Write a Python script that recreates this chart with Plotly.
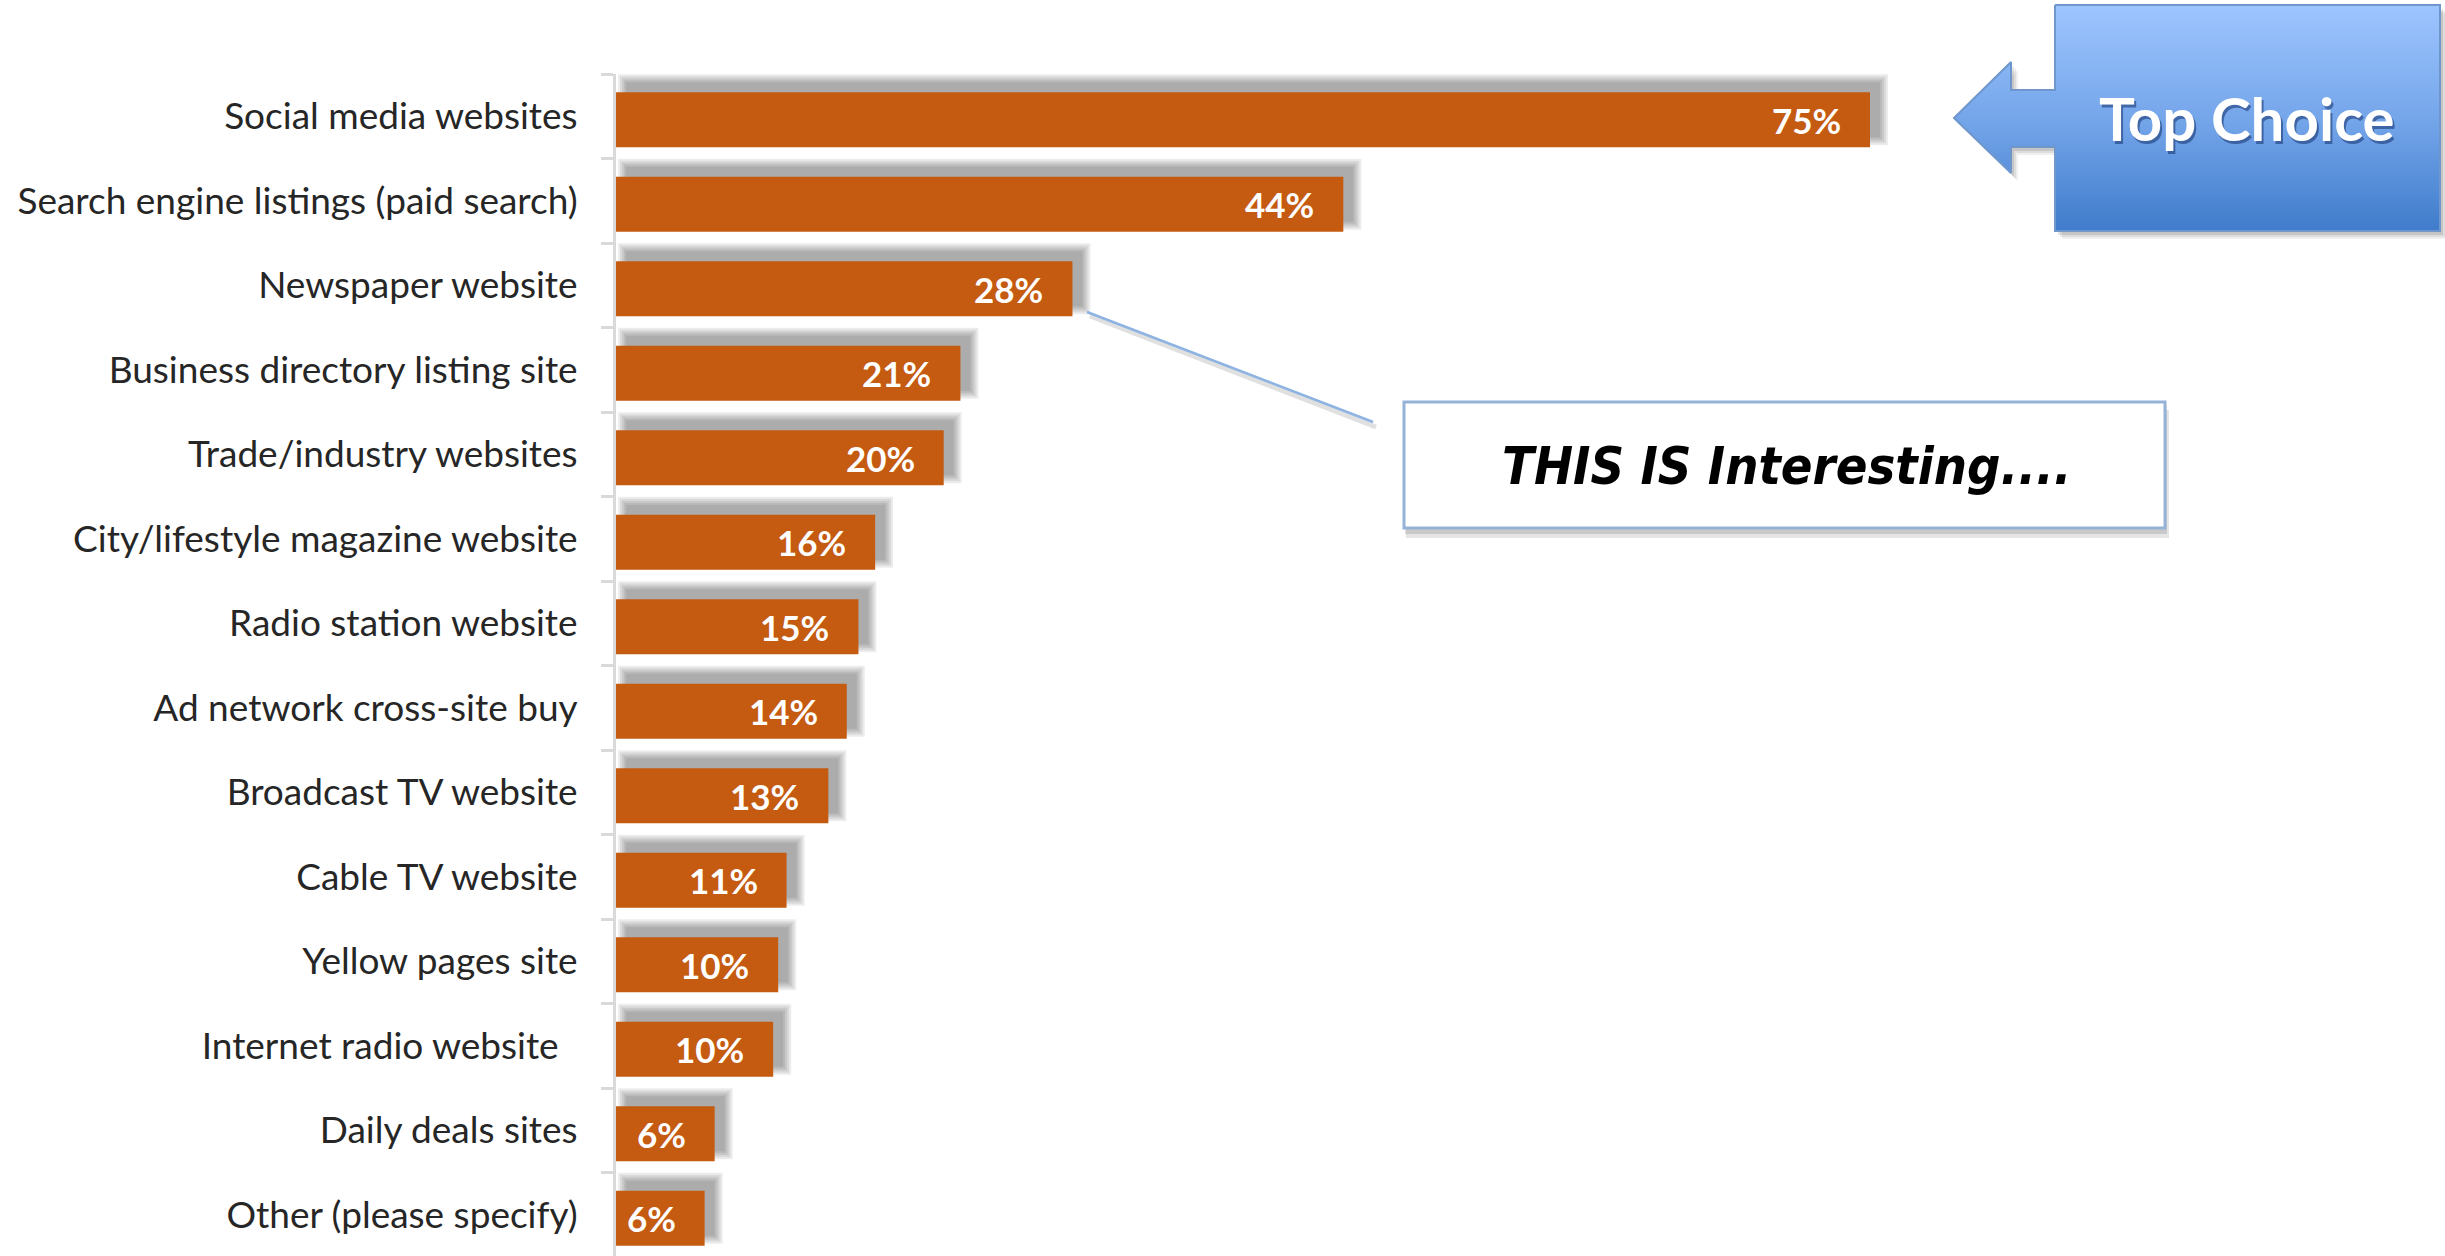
import plotly.graph_objects as go

# ---------------- data ----------------
categories = [
    "Social media websites",
    "Search engine listings (paid search)",
    "Newspaper website",
    "Business directory listing site",
    "Trade/industry websites",
    "City/lifestyle magazine website",
    "Radio station website",
    "Ad network cross-site buy",
    "Broadcast TV website",
    "Cable TV website",
    "Yellow pages site",
    "Internet radio website\u00a0\u00a0",
    "Daily deals sites",
    "Other (please specify)",
]
values = [75.0, 43.5, 27.3, 20.6, 19.6, 15.5, 14.5, 13.8, 12.7, 10.2, 9.7, 9.4, 5.9, 5.3]
value_labels = ["75%", "44%", "28%", "21%", "20%", "16%", "15%", "14%", "13%",
                "11%", "10%", "10%", "6%", "6%"]

top_choice_text = "Top Choice"
callout_text = "THIS IS Interesting...."

# ---------------- geometry ----------------
W, H = 2445, 1256
AXIS_X = 616          # px position of the category axis
PX_PER_PCT = 16.72    # px per percentage point
TOP = 74              # px top of plot area
BAND = 84.5           # px per category band

x_max = (W - AXIS_X) / PX_PER_PCT
n_bands = (H - TOP) / BAND
y_range = [-0.5 + n_bands, -0.5]

BAR_W = 0.65
BAR_OFF = -BAR_W / 2 + 3.5 / BAND
BAR_COLOR = "#c55a11"

fig = go.Figure()

# soft drop shadow behind the bars (several translucent layers)
SH_DX, SH_DY = 10, 10
for e in [8, 6, 4, 2, 0]:
    base = max(0.0, (SH_DX - e)) / PX_PER_PCT
    fig.add_trace(go.Bar(
        orientation="h",
        y=categories,
        x=[v + (SH_DX + e) / PX_PER_PCT - base for v in values],
        base=base,
        width=BAR_W + 2 * e / BAND,
        offset=BAR_OFF - (SH_DY + e) / BAND,
        marker=dict(color="rgba(0,0,0,0.075)", line=dict(width=0)),
        hoverinfo="skip",
        showlegend=False,
        xaxis="x", yaxis="y",
    ))

# main bars
fig.add_trace(go.Bar(
    orientation="h",
    y=categories,
    x=values,
    width=BAR_W,
    offset=BAR_OFF,
    marker=dict(color=BAR_COLOR, line=dict(width=0)),
    showlegend=False,
    xaxis="x", yaxis="y",
))

annotations = []
for cat, v, lab in zip(categories, values, value_labels):
    annotations.append(dict(
        x=v, y=cat, xref="x", yref="y",
        text=lab, showarrow=False,
        xanchor="right", yanchor="middle",
        xshift=-27, yshift=-3.5,
        font=dict(family="Lato, Open Sans, sans-serif", size=35, color="white", weight="bold"),
    ))

# ---------------- decorations (pixel coordinate subplot) ----------------
arrow_x = [2055, 2440, 2440, 2055, 2055, 2011, 2011, 1954, 2011, 2011, 2055, 2055]
arrow_y = [5, 5, 231, 231, 147, 147, 173, 118, 62, 90, 90, 5]

# arrow shadow
for dx, dy, a in [(7, 8, 0.06), (5, 6, 0.08), (3, 4, 0.10)]:
    fig.add_trace(go.Scatter(
        x=[px + dx for px in arrow_x], y=[py + dy for py in arrow_y],
        fill="toself", fillcolor=f"rgba(0,0,0,{a})",
        line=dict(width=0), mode="lines", hoverinfo="skip", showlegend=False,
        xaxis="x2", yaxis="y2",
    ))
fig.add_trace(go.Scatter(
    x=arrow_x, y=arrow_y,
    fill="toself",
    fillgradient=dict(type="vertical",
                      colorscale=[[0, "#3f7ccb"], [0.5, "#75a6ea"], [1, "#9ec5ff"]]),
    line=dict(width=2, color="#6f97cc"), mode="lines",
    hoverinfo="skip", showlegend=False,
    xaxis="x2", yaxis="y2",
))

annotations.append(dict(
    x=2249, y=121, xref="x2", yref="y2", text=top_choice_text, showarrow=False,
    xanchor="center", yanchor="middle",
    font=dict(family="Lato, Open Sans, sans-serif", size=60, color="rgba(20,50,110,0.55)", weight="bold"),
))
annotations.append(dict(
    x=2247, y=118, xref="x2", yref="y2", text=top_choice_text, showarrow=False,
    xanchor="center", yanchor="middle",
    font=dict(family="Lato, Open Sans, sans-serif", size=60, color="white", weight="bold"),
))

shapes = [
    # connector line shadow + line
    dict(type="line", xref="x2", yref="y2", x0=1090, y0=316, x1=1376, y1=427,
         line=dict(color="rgba(0,0,0,0.12)", width=5), layer="above"),
    dict(type="line", xref="x2", yref="y2", x0=1087, y0=312, x1=1373, y1=422,
         line=dict(color="#8db3e2", width=2.5), layer="above"),
    # callout box shadow
    dict(type="rect", xref="x2", yref="y2", x0=1406, y0=410, x1=2169, y1=538,
         fillcolor="rgba(0,0,0,0.10)", line=dict(width=0), layer="above"),
    dict(type="rect", xref="x2", yref="y2", x0=1405, y0=406, x1=2167, y1=534,
         fillcolor="rgba(0,0,0,0.12)", line=dict(width=0), layer="above"),
    # callout box
    dict(type="rect", xref="x2", yref="y2", x0=1404, y0=402, x1=2165, y1=528,
         fillcolor="white", line=dict(color="#95b3d7", width=3), layer="above"),
]

annotations.append(dict(
    x=1787, y=466, xref="x2", yref="y2", text="<b><i>" + callout_text + "</i></b>",
    showarrow=False, xanchor="center", yanchor="middle",
    font=dict(family="DejaVu Sans Condensed, DejaVu Sans, sans-serif", size=52, color="black"),
))

fig.update_layout(
    width=W, height=H,
    margin=dict(l=0, r=0, t=0, b=0),
    paper_bgcolor="white",
    plot_bgcolor="rgba(0,0,0,0)",
    barmode="overlay",
    showlegend=False,
    xaxis=dict(domain=[AXIS_X / W, 1], range=[0, x_max], visible=False,
               fixedrange=True, anchor="y"),
    yaxis=dict(domain=[0, (H - TOP) / H], range=y_range,
               type="category", categoryorder="array", categoryarray=categories,
               showline=True, linecolor="#d9d9d9", linewidth=3,
               ticks="outside", ticklen=12, tickcolor="#d9d9d9", tickwidth=3,
               tickson="boundaries", ticklabelstandoff=28,
               showgrid=False, zeroline=False, anchor="x",
               tickfont=dict(family="Lato, Open Sans, sans-serif", size=37, color="#262626"),
               fixedrange=True),
    xaxis2=dict(domain=[0, 1], range=[0, W], visible=False, anchor="y2", fixedrange=True),
    yaxis2=dict(domain=[0, 1], range=[H, 0], visible=False, anchor="x2", fixedrange=True),
    annotations=annotations,
    shapes=shapes,
)

fig.write_html("out.html")
